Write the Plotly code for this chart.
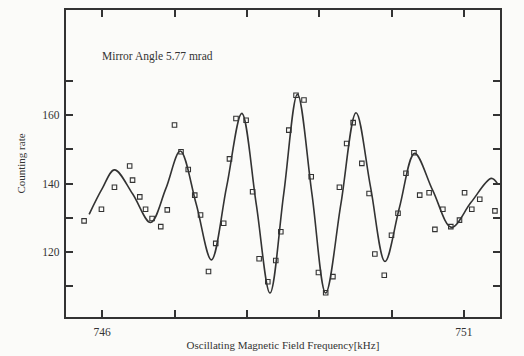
import plotly.graph_objects as go

# Measured data points (frequency kHz, counting rate)
data_freq = [745.75, 745.99, 746.17, 746.38, 746.42, 746.52, 746.60, 746.69, 746.81, 746.90,
             747.00, 747.09, 747.19, 747.28, 747.36, 747.47, 747.57, 747.68, 747.76, 747.85,
             747.99, 748.08, 748.17, 748.29, 748.40, 748.47, 748.58, 748.68, 748.79, 748.89,
             748.99, 749.09, 749.19, 749.28, 749.38, 749.47, 749.59, 749.69, 749.77, 749.90,
             750.00, 750.09, 750.20, 750.31, 750.39, 750.52, 750.60, 750.71, 750.82, 750.94,
             751.01, 751.11, 751.22, 751.43]
data_rate = [129.1, 132.5, 138.9, 145.1, 141.0, 136.1, 132.5, 129.8, 127.4, 132.3,
             157.1, 149.3, 144.1, 136.6, 130.8, 114.3, 122.5, 128.4, 147.2, 159.0,
             158.5, 137.6, 118.0, 111.3, 117.5, 125.9, 155.6, 165.8, 164.4, 142.0,
             114.0, 108.1, 112.8, 138.9, 151.7, 157.8, 145.9, 137.1, 119.4, 113.2,
             124.9, 131.3, 143.0, 149.0, 136.6, 137.3, 126.6, 132.5, 127.4, 129.3,
             137.3, 132.5, 135.4, 132.0]

# Fitted curve
fit_freq = [745.82, 746.00, 746.17, 746.42, 746.67, 746.88, 747.08, 747.30, 747.51, 747.72,
            747.93, 748.13, 748.32, 748.51, 748.70, 748.90, 749.09, 749.30, 749.51, 749.71,
            749.91, 750.11, 750.32, 750.57, 750.83, 751.10, 751.38, 751.47]
fit_rate = [131.0, 138.5, 144.0, 137.0, 128.6, 138.5, 149.5, 134.0, 117.7, 139.0,
            160.5, 134.0, 108.0, 137.0, 166.1, 137.0, 108.0, 134.0, 160.7, 139.0,
            117.2, 133.0, 148.8, 138.0, 127.2, 134.5, 141.5, 139.8]

x_tickvals = [746, 747, 748, 749, 750, 751]
x_ticktext = ["746", "", "", "", "", "751"]
y_tickvals = [110, 120, 130, 140, 150, 160, 170]
y_ticktext = ["", "120", "", "140", "", "160", ""]

ink = "#333333"
font = "Liberation Serif"

fig = go.Figure()
fig.add_trace(go.Scatter(x=fit_freq, y=fit_rate, mode="lines",
                         line=dict(color=ink, width=1.6, shape="spline", smoothing=1.0),
                         hoverinfo="skip", showlegend=False))
fig.add_trace(go.Scatter(x=data_freq, y=data_rate, mode="markers",
                         marker=dict(symbol="square-open", size=4.5, color=ink,
                                     line=dict(width=1.1, color=ink)),
                         showlegend=False))

fig.add_annotation(text="Mirror Angle 5.77 mrad", xref="paper", yref="paper",
                   x=0.078, y=0.847, xanchor="left", yanchor="middle", showarrow=False,
                   font=dict(family=font, size=11.5, color=ink))

fig.update_layout(
    width=524, height=356,
    margin=dict(l=66, r=24, t=10, b=39),
    paper_bgcolor="#fbfbf9", plot_bgcolor="#fbfbf9",
    font=dict(family=font, size=11.5, color=ink),
    xaxis=dict(range=[745.5, 751.5], tickvals=x_tickvals, ticktext=x_ticktext,
               ticks="inside", ticklen=7, tickwidth=1.5, tickcolor=ink,
               ticklabelstandoff=3, automargin=False,
               showline=True, linecolor=ink, linewidth=2.2, mirror="allticks",
               showgrid=False, zeroline=False,
               title=dict(text="Oscillating Magnetic Field Frequency[kHz]", standoff=4,
                          font=dict(family=font, size=11, color=ink))),
    yaxis=dict(range=[101, 190.7], tickvals=y_tickvals, ticktext=y_ticktext,
               ticks="inside", ticklen=7, tickwidth=1.5, tickcolor=ink,
               ticklabelstandoff=2, automargin=False,
               showline=True, linecolor=ink, linewidth=2.2, mirror="allticks",
               showgrid=False, zeroline=False,
               title=dict(text="Counting rate", standoff=14,
                          font=dict(family=font, size=11, color=ink))),
)

fig.write_html("out.html")
